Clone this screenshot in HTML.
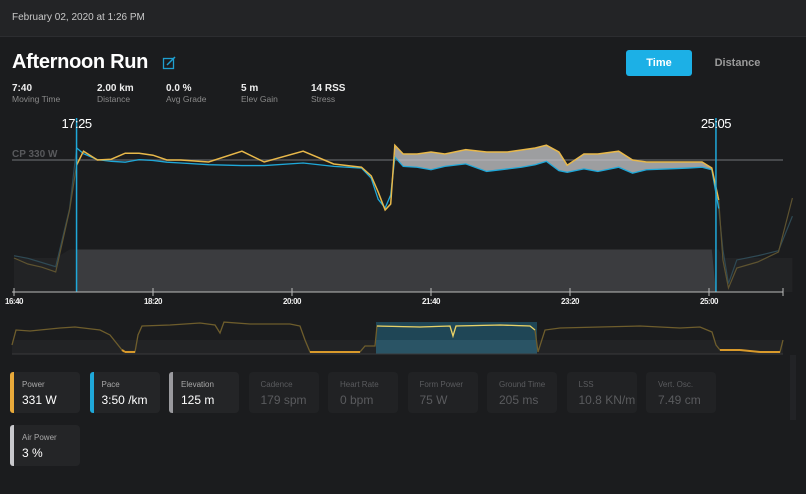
<!DOCTYPE html>
<html><head><meta charset="utf-8"><style>
body{margin:0;width:806px;height:494px;background:#1b1c1e;font-family:"Liberation Sans",sans-serif;overflow:hidden;position:relative;color:#fff}
.hdr{position:absolute;left:0;top:0;width:806px;height:36px;background:#232426;border-bottom:1px solid #2c2d30}
.hdr span{position:absolute;left:12px;top:12px;font-size:10px;color:#c8c8c8}
.title{position:absolute;left:12px;top:51px;font-size:20px;font-weight:bold;letter-spacing:-0.3px}
.stat{position:absolute;top:84px;font-size:10px;font-weight:bold;color:#eee;line-height:10px}
.stat i{display:block;font-style:normal;font-weight:normal;font-size:8.5px;color:#8a8a8a}
.btn{position:absolute;top:50px;height:26px;font-size:11px;font-weight:bold;text-align:center;line-height:26px;border-radius:3px}
.card{position:absolute;width:70px;height:41px;background:#242527;border-radius:4px}
.card .bar{position:absolute;left:0;top:0;width:4px;height:41px;border-radius:3px 0 0 3px}
.card .l{position:absolute;left:12px;top:8px;font-size:8px;color:#a8a8a8}
.card .v{position:absolute;left:12px;top:21px;font-size:12px;color:#fff}
.card.f .l,.card.f .v{color:#5a5b5e}
.card.f{background:#212224}
</style></head><body>
<div class="hdr"><span>February 02, 2020 at 1:26 PM</span></div>
<div class="title">Afternoon Run</div>
<svg style="position:absolute;left:162px;top:56px" width="14" height="14"><rect x="1.5" y="2.5" width="10" height="10" fill="none" stroke="#1f9fd0" stroke-width="1.3"/><path d="M5 9 L13 1" stroke="#1f9fd0" stroke-width="1.5"/></svg>
<div class="stat" style="left:12px">7:40<i>Moving Time</i></div>
<div class="stat" style="left:97px">2.00 km<i>Distance</i></div>
<div class="stat" style="left:166px">0.0 %<i>Avg Grade</i></div>
<div class="stat" style="left:241px">5 m<i>Elev Gain</i></div>
<div class="stat" style="left:311px">14 RSS<i>Stress</i></div>
<div class="btn" style="left:626px;width:66px;background:#1cb0e6;color:#fff">Time</div>
<div class="btn" style="left:700px;width:75px;color:#9a9a9a">Distance</div>
<svg id="ch" style="position:absolute;left:0;top:0" width="806" height="360"></svg>
<div id="cards"></div>
<div style="position:absolute;left:790px;top:355px;width:6px;height:65px;background:#222326"></div>
<script>
const times=[1000,1010,1020,1030,1040,1045,1050,1060,1070,1080,1090,1100,1110,1120,1140,1164,1180,1208,1230,1250,1257,1262,1267,1271,1274,1280,1290,1300,1310,1325,1340,1355,1365,1375,1383,1392,1398,1410,1420,1435,1445,1455,1470,1485,1495,1502,1507,1510,1514,1520,1535,1550,1560];
const power=[85,70,62,50,205,317,352,330,332,347,347,342,330,330,325,352,325,352,320,312,290,250,205,220,367,345,345,350,345,356,350,350,355,360,367,350,317,345,345,352,330,325,325,325,325,310,230,80,10,60,75,100,235];
const speed=[4.3,4.0,3.5,3.0,9.9,17.1,16.4,15.7,15.5,15.4,15.7,15.6,15.4,15.3,15.1,15.0,15.0,15.3,14.9,14.7,13.5,11.0,9.96,11.5,16.0,14.9,14.8,14.5,14.9,15.2,14.3,14.6,14.8,15.1,15.5,14.4,14.2,14.6,14.3,14.8,14.1,14.5,14.6,14.7,14.8,14.5,9.9,5.0,1.0,3.8,4.3,4.9,9.0];
const elev=[125,125,125,125,125,125,125,125,125,125,125,125,125,125,125,125,125,125,125,125,125,125,125,125,125,125,125,125,125,125,125,125,125,125,125,125,125,125,125,125,125,125,125,125,125,125,125,125,125,125,125,125,125];
const tickTimes=[1000,1100,1200,1300,1400,1500];
const tickLabels=["16:40","18:20","20:00","21:40","23:20","25:00"];
const markers=[1045,1505];const markerLabels=["17:25","25:05"];
const cp=330;
const ovT=[0,0.4,1.8,4.8,6.3,8.8,9.8,10.6,11,11.3,12.3,12.6,13,15.8,18.8,20.3,20.8,21.2,23.8,27.8,28.8,29.3,29.8,34.8,35.3,36.3,36.5,40.8,43.8,44.1,44.4,48.8,51.8,52.3,52.6,53.3,54.8,58.8,62.8,66.8,68.8,70,70.4,70.8,72.8,74.8,76.8,77.1];
const ovP=[106,282,271,306,318,282,224,106,47,24,24,224,329,341,365,341,247,376,353,353,329,165,24,24,94,94,329,318,329,212,329,341,329,282,24,282,306,318,329,306,318,259,106,47,47,24,24,165];
const X=t=>14+(t-1000)*1.39, YP=p=>292-p*0.4, YS=s=>292-s*8.43, YE=e=>292-e*0.34;
const OX=t=>12+t*10, OY=p=>354-p*0.085;
const svg=document.getElementById('ch');const NS='http://www.w3.org/2000/svg';
function mk(tag,a,name){const e=document.createElementNS(NS,tag);for(const k in a)e.setAttribute(k,a[k]);


svg.appendChild(e);return e;}
const eAll=times.map((t,i)=>X(t)+','+YE(elev[i]+(i<4||i>46?-25:0)));
mk('polygon',{points:X(1000)+',292 '+eAll.join(' ')+' '+X(1560)+',292',fill:'#222325'},'elevation-area-outside');
const inIdx=times.map((t,i)=>i).filter(i=>times[i]>=markers[0]&&times[i]<=markers[1]);
mk('polygon',{points:X(markers[0])+',292 '+inIdx.map(i=>X(times[i])+','+YE(elev[i])).join(' ')+' '+X(markers[1])+',292',fill:'#3b3c3f'},'elevation-area');
mk('line',{x1:12,x2:783,y1:YP(cp),y2:YP(cp),stroke:'#55565a','stroke-width':1.5},'cp-line');
mk('text',{x:12,y:YP(cp)-3,fill:'#58595c','font-size':10,'font-weight':'bold'},'cp-label').textContent='CP '+cp+' W';
const band=times.map((t,i)=>i).filter(i=>times[i]>=1274&&times[i]<=1502);
mk('polygon',{points:band.map(i=>X(times[i])+','+YP(power[i])).join(' ')+' '+band.slice().reverse().map(i=>X(times[i])+','+YS(speed[i])).join(' '),fill:'#c9c9cc',opacity:0.75},'power-pace-band');
const pre=times.map((t,i)=>i).filter(i=>times[i]<=1045), post=times.map((t,i)=>i).filter(i=>times[i]>=1505), mid=times.map((t,i)=>i).filter(i=>times[i]>=1045&&times[i]<=1507);
mk('polyline',{points:pre.map(i=>X(times[i])+','+YS(speed[i])).join(' '),fill:'none',stroke:'#2f4a55','stroke-width':1.2},'pace-line-pre');
mk('polyline',{points:pre.map(i=>X(times[i])+','+YP(power[i])).join(' '),fill:'none',stroke:'#5e5330','stroke-width':1.2},'power-line-pre');
mk('polyline',{points:post.map(i=>X(times[i])+','+YS(speed[i])).join(' '),fill:'none',stroke:'#2f4a55','stroke-width':1.2},'pace-line-post');
mk('polyline',{points:post.map(i=>X(times[i])+','+YP(power[i])).join(' '),fill:'none',stroke:'#5e5330','stroke-width':1.2},'power-line-post');
mk('polyline',{points:mid.map(i=>X(times[i])+','+YS(speed[i])).join(' '),fill:'none',stroke:'#1fa8d9','stroke-width':1.3},'pace-line');
mk('polyline',{points:mid.map(i=>X(times[i])+','+YP(power[i])).join(' '),fill:'none',stroke:'#e8b84a','stroke-width':1.5},'power-line');
markers.forEach((m,k)=>{mk('line',{x1:X(m),x2:X(m),y1:118,y2:292,stroke:'#1fa8d9','stroke-width':1.5},'range-marker');
mk('text',{x:X(m),y:128,fill:'#fff','font-size':13,'text-anchor':'middle','letter-spacing':'-0.5'},'marker-label').textContent=markerLabels[k];});
mk('line',{x1:12,x2:783,y1:292,y2:292,stroke:'#bbb','stroke-width':1},'x-axis');
mk('line',{x1:783,x2:783,y1:288,y2:296,stroke:'#bbb','stroke-width':1},'x-axis-end');
tickTimes.forEach((t,k)=>{mk('line',{x1:X(t),x2:X(t),y1:288,y2:296,stroke:'#bbb'},'x-tick');
mk('text',{x:X(t),y:304,fill:'#eee','font-size':8,'font-weight':'bold','text-anchor':'middle','letter-spacing':'-0.5'},'x-tick-label').textContent=tickLabels[k];});
mk('rect',{x:12,y:340,width:771,height:14,fill:'#222325'},'overview-bg');
mk('rect',{x:376,y:322,width:161,height:32,fill:'#1f4656'},'overview-selection');
mk('rect',{x:376,y:340,width:161,height:14,fill:'#2a5465'},'overview-selection-lower');
mk('line',{x1:12,x2:783,y1:354,y2:354,stroke:'#3a3a3c'},'overview-baseline');
mk('polyline',{points:ovT.map((t,i)=>OX(t)+','+OY(ovP[i])).join(' '),fill:'none',stroke:'#6e5d2c','stroke-width':1.3},'overview-power-line');
ovT.forEach((t,i)=>{if(i>0&&ovP[i]<50&&ovP[i-1]<50){mk('line',{x1:OX(ovT[i-1]),x2:OX(t),y1:OY(ovP[i-1]),y2:OY(ovP[i]),stroke:'#d99a2b','stroke-width':2},'overview-low-segment');}});
const sel=ovT.map((t,i)=>i).filter(i=>OX(ovT[i])>=376&&OX(ovT[i])<=537);
mk('polyline',{points:sel.map(i=>OX(ovT[i])+','+OY(ovP[i])).join(' '),fill:'none',stroke:'#e6d26a','stroke-width':1.3},'overview-selected-line');
const cards=[["Power","331 W","#e8a93a",0],["Pace","3:50 /km","#1fa8d9",0],["Elevation","125 m","#9a9a9e",0],["Cadence","179 spm","",1],["Heart Rate","0 bpm","",1],["Form Power","75 W","",1],["Ground Time","205 ms","",1],["LSS","10.8 KN/m","",1],["Vert. Osc.","7.49 cm","",1]];
let h='';cards.forEach((c,i)=>{h+=`<div class="card${c[3]?' f':''}" style="left:${10+i*79.5}px;top:372px">${c[2]?`<div class="bar" style="background:${c[2]}"></div>`:''}<div class="l">${c[0]}</div><div class="v">${c[1]}</div></div>`;});
h+=`<div class="card" style="left:10px;top:425px"><div class="bar" style="background:#c8c8cc"></div><div class="l">Air Power</div><div class="v">3 %</div></div>`;
document.getElementById('cards').innerHTML=h;
</script>
</body></html>
